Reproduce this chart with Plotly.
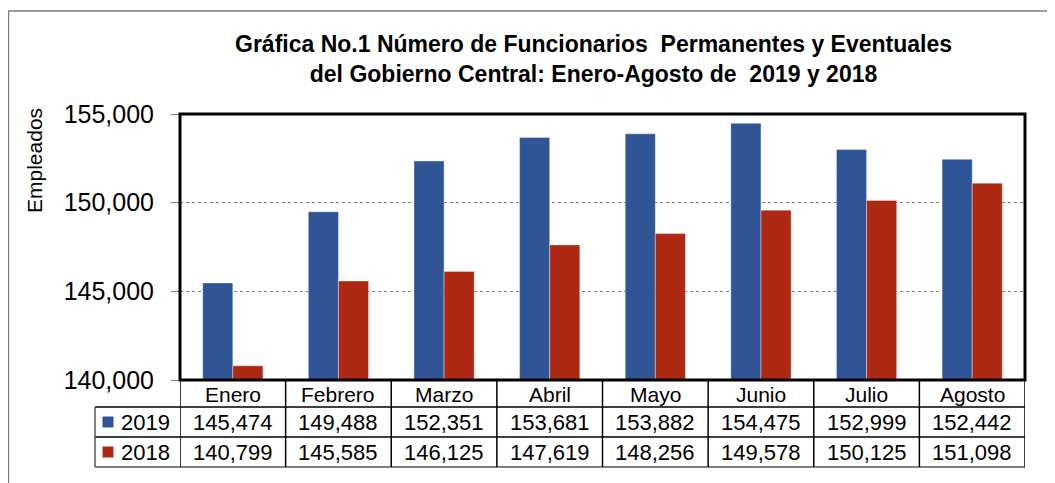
import plotly.graph_objects as go

months = ["Enero", "Febrero", "Marzo", "Abril", "Mayo", "Junio", "Julio", "Agosto"]
series_names = ["2019", "2018"]
values_2019 = [145474, 149488, 152351, 153681, 153882, 154475, 152999, 152442]
values_2018 = [140799, 145585, 146125, 147619, 148256, 149578, 150125, 151098]
colors = ["#2F5597", "#AE2914"]
y_ticks = [140000, 145000, 150000, 155000]
title_lines = ["Gráfica No.1 Número de Funcionarios  Permanentes y Eventuales",
               "del Gobierno Central: Enero-Agosto de  2019 y 2018"]

# the page body has an 8px margin, so figure coords = page coords - 8
OFF = 8
W, H = 1055 - OFF, 483 - OFF
ML, MR, MT, MB = 180 - OFF, 30, 114 - OFF, 103
PW, PH = W - ML - MR, H - MT - MB

def px_x(x):  # page pixel -> paper
    return (x - OFF - ML) / PW

def px_y(y):
    return (H - MB - (y - OFF)) / PH

FONT = "Liberation Sans, Arial, sans-serif"

fig = go.Figure()
for name, vals, col in zip(series_names, [values_2019, values_2018], colors):
    fig.add_trace(go.Bar(
        x=months, y=vals, name=name, marker_color=col,
        marker_line=dict(width=0.6, color="rgba(255,255,255,0.6)"),
        showlegend=False,
    ))

shapes = []
annotations = []

# plot border
shapes.append(dict(type="rect", xref="paper", yref="paper", x0=0, x1=1, y0=0, y1=1,
                   line=dict(color="black", width=3), layer="above"))

# outer chart frame (left and top)
shapes.append(dict(type="path", xref="paper", yref="paper",
                   path=f"M {px_x(8.5)},{px_y(490)} L {px_x(8.5)},{px_y(11)} L {px_x(1060)},{px_y(11)}",
                   line=dict(color="#7F7F7F", width=1.5)))

# table geometry
row_lines = [px_y(407), px_y(437), px_y(467)]
leg_left = px_x(95)
y_head = px_y(394)
y_rows = [px_y(422), px_y(452)]

for i, yl in enumerate(row_lines):
    shapes.append(dict(type="line", xref="paper", yref="paper", x0=leg_left, x1=1,
                       y0=yl, y1=yl, line=dict(color="black" if i < 2 else "#555555", width=1.5)))
shapes.append(dict(type="line", xref="paper", yref="paper", x0=leg_left, x1=leg_left,
                   y0=row_lines[0], y1=row_lines[2], line=dict(color="#555555", width=1.5)))
for i in range(len(months) + 1):
    shapes.append(dict(type="line", xref="x", yref="paper", x0=i - 0.5, x1=i - 0.5,
                       y0=0, y1=row_lines[2], line=dict(color="black", width=1.5)))

for m in months:
    annotations.append(dict(x=m, y=y_head, xref="x", yref="paper", text=m, showarrow=False,
                            font=dict(family=FONT, size=21, color="black"),
                            xanchor="center", yanchor="middle"))

for name, vals, col, yr in zip(series_names, [values_2019, values_2018], colors, y_rows):
    shapes.append(dict(type="rect", xref="paper", yref="paper", xsizemode="pixel", ysizemode="pixel",
                       xanchor=px_x(108), yanchor=yr, x0=-5.5, x1=5.5, y0=-5.5, y1=5.5,
                       fillcolor=col, line=dict(width=0)))
    annotations.append(dict(x=px_x(145), y=yr, xref="paper", yref="paper", text=name, showarrow=False,
                            font=dict(family=FONT, size=22, color="black"),
                            xanchor="center", yanchor="middle"))
    for m, v in zip(months, vals):
        annotations.append(dict(x=m, y=yr, xref="x", yref="paper", text=f"{v:,}", showarrow=False,
                                font=dict(family=FONT, size=22, color="black"),
                                xanchor="center", yanchor="middle"))

# y-axis label
annotations.append(dict(x=px_x(34), y=px_y(161), xref="paper", yref="paper", text="Empleados",
                        textangle=-90, showarrow=False,
                        font=dict(family=FONT, size=21, color="black"),
                        xanchor="center", yanchor="middle"))

# title
annotations.append(dict(x=px_x(593), y=px_y(59), xref="paper", yref="paper",
                        text="<b>" + "<br>".join(title_lines) + "</b>", showarrow=False,
                        font=dict(family=FONT, size=23, color="black"),
                        xanchor="center", yanchor="middle", align="center"))

fig.update_layout(
    width=W, height=H,
    margin=dict(l=ML, r=MR, t=MT, b=MB, autoexpand=False),
    paper_bgcolor="white", plot_bgcolor="white",
    barmode="group", bargap=0.43, bargroupgap=0,
    xaxis=dict(type="category", range=[-0.5, len(months) - 0.5], showticklabels=False,
               showgrid=False, ticks="", zeroline=False, showline=False),
    yaxis=dict(range=[y_ticks[0], y_ticks[-1]], tickvals=y_ticks, tickformat=",",
               ticks="outside", ticklen=8, tickcolor="#7F7F7F", tickwidth=1,
               ticklabelstandoff=12,
               tickfont=dict(family=FONT, size=25, color="black"),
               showgrid=True, gridcolor="#7F7F7F", griddash="dot", gridwidth=1,
               zeroline=False, showline=False),
    shapes=shapes,
    annotations=annotations,
)

fig.write_html("out.html")
